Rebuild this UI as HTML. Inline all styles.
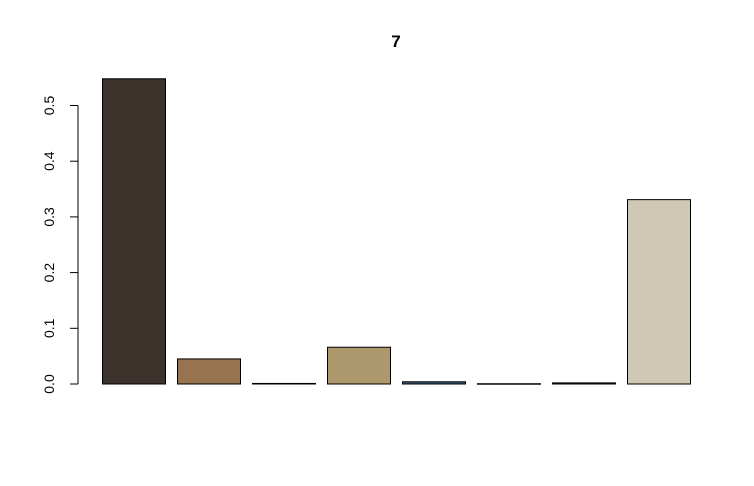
<!DOCTYPE html>
<html><head><meta charset="utf-8"><style>body{margin:0;background:#fff}svg{display:block;font-family:"Liberation Sans",Arial,sans-serif}</style></head>
<body>
<svg id="c" width="754" height="486">
<text x="396" y="47" text-anchor="middle" font-weight="bold" font-size="17">7</text>
</svg>
<script>
const categories=["1","2","3","4","5","6","7","8"];
const values=[0.548,0.045,0.001,0.066,0.004,0.0005,0.002,0.331];
const colors=["#3b322c","#97744f","#2a2520","#ad976c","#3a5a7a","#888888","#333a40","#cfc8b4"];
const ticks=[0,0.1,0.2,0.3,0.4,0.5];
const tickLabels=["0.0","0.1","0.2","0.3","0.4","0.5"];
const svg=document.getElementById('c');const NS='http://www.w3.org/2000/svg';
const y=v=>384-v*557;
const x=i=>102+i*75;
function mk(t,a){const e=document.createElementNS(NS,t);for(const k in a)e.setAttribute(k,a[k]);svg.appendChild(e);return e;}
values.forEach((v,i)=>{const r=mk('rect',{x:x(i)+0.5,y:y(v),width:63,height:Math.max(384-y(v),0.5),fill:colors[i],stroke:'#000','stroke-width':1});

});
const ax=mk('line',{x1:78,x2:78,y1:y(0),y2:y(0.5),stroke:'#000'});


ticks.forEach((t,i)=>{const l=mk('line',{x1:70,x2:78,y1:y(t),y2:y(t),stroke:'#000'});


const tx=mk('text',{x:0,y:0,'font-size':14,'text-anchor':'middle',transform:`translate(54,${y(t)}) rotate(-90)`});
tx.textContent=tickLabels[i];

});
</script>
</body></html>
